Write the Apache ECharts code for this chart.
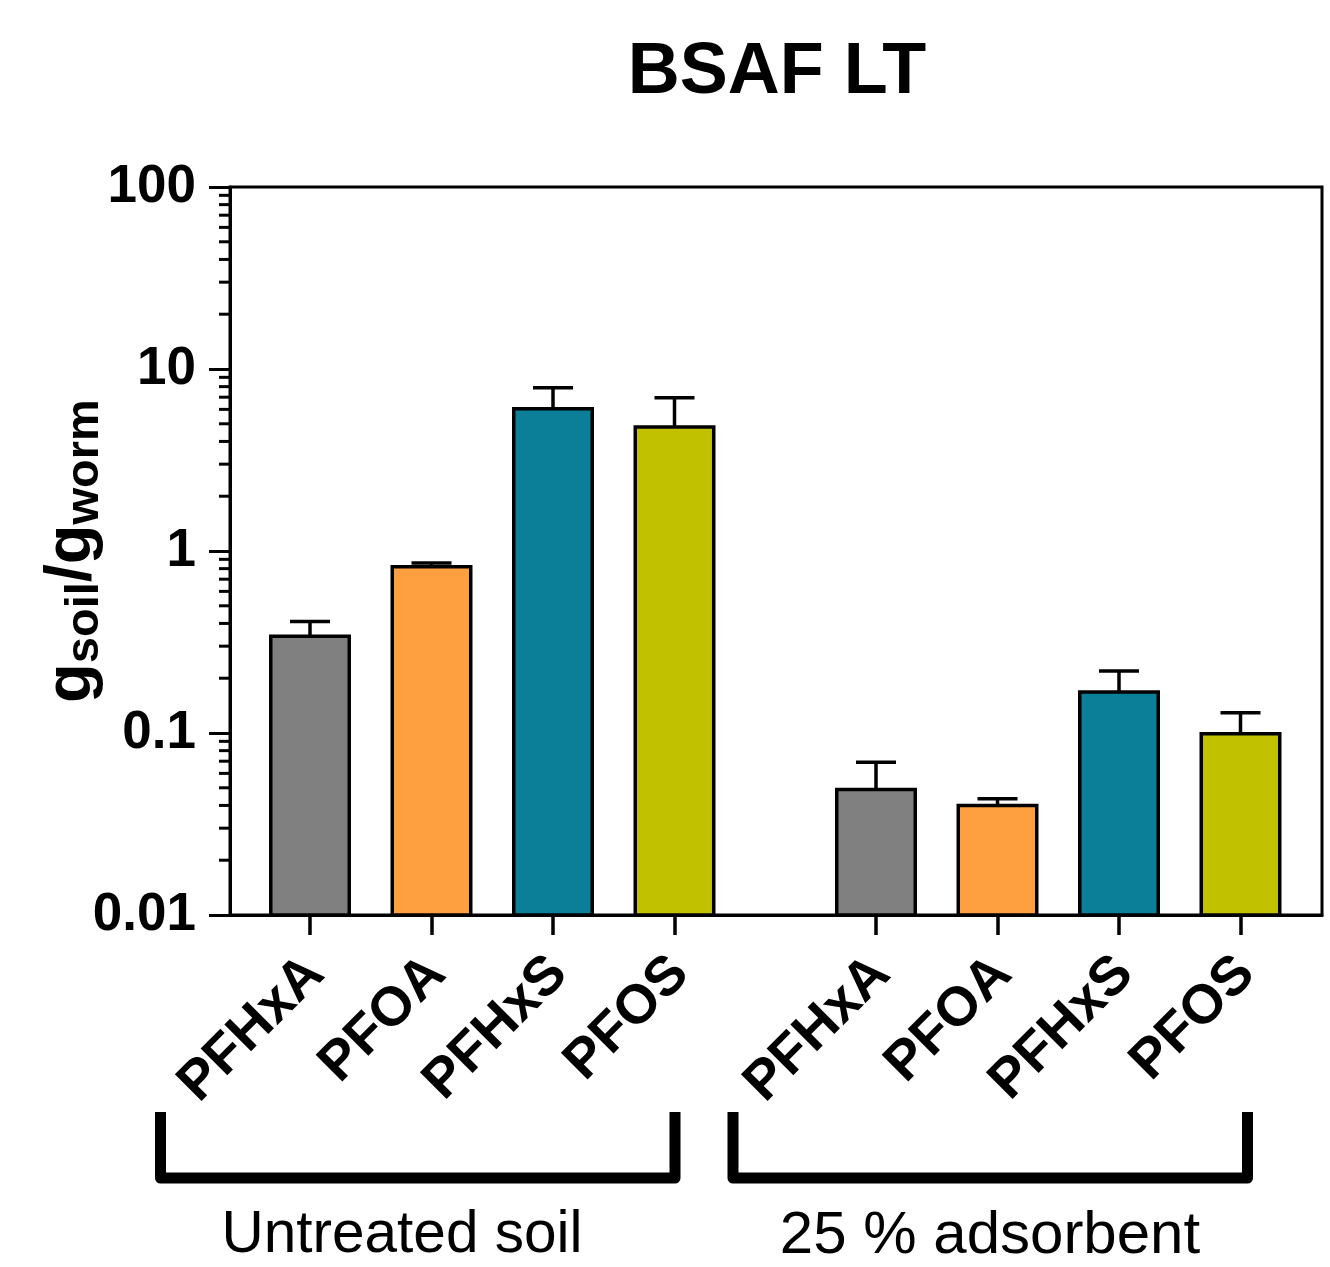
<!DOCTYPE html>
<html><head><meta charset="utf-8">
<script src="https://cdn.jsdelivr.net/npm/echarts@6/dist/echarts.min.js"></script>
<style>html,body{margin:0;padding:0;background:#fff}#c{width:1330px;height:1267px}</style>
</head><body><div id="c"></div>
<script>
const titleText = 'BSAF LT';
const compounds = ['PFHxA', 'PFOA', 'PFHxS', 'PFOS'];
const groupNames = ['Untreated soil', '25 % adsorbent'];
const untreatedMean = [0.34, 0.82, 6.05, 4.8];
const untreatedUpper = [0.41, 0.86, 7.9, 6.95];
const adsorbentMean = [0.049, 0.040, 0.168, 0.099];
const adsorbentUpper = [0.069, 0.0435, 0.219, 0.129];
const yTickLabels = ['0.01', '0.1', '1', '10', '100'];
const barColors = ['#808080', '#ffa040', '#0b7e98', '#c1c100'];

const FONT = '"Liberation Sans", Arial, Helvetica, sans-serif';
const yMin = Number(yTickLabels[0]), yMax = Number(yTickLabels[yTickLabels.length - 1]);

// minor tick values (2..9 per decade)
const minorVals = [];
for (let d = 0; d < yTickLabels.length - 1; d++) {
  const base = Number(yTickLabels[d]);
  for (let k = 2; k <= 9; k++) minorVals.push([0, base * k]);
}

function barItem(params, api) {
  const i = api.value(0), v = api.value(1), hi = api.value(2);
  const tp = api.coord([i, v]);
  const bs = api.coord([i, yMin]);
  const cap = api.coord([i, hi]);
  const band = api.size([1, 0])[0];
  const w = band * 0.646;
  const lw = 3.5;
  return {
    type: 'group',
    children: [
      { type: 'line', shape: { x1: tp[0], y1: tp[1], x2: tp[0], y2: cap[1] }, style: { stroke: '#000', lineWidth: lw } },
      { type: 'line', shape: { x1: tp[0] - 20, y1: cap[1], x2: tp[0] + 20, y2: cap[1] }, style: { stroke: '#000', lineWidth: lw } },
      { type: 'rect', shape: { x: tp[0] - w / 2, y: tp[1], width: w, height: bs[1] - tp[1] }, style: { fill: barColors[i], stroke: '#000', lineWidth: lw } }
    ]
  };
}

function minorItem(params, api) {
  const p = api.coord([0, api.value(1)]);
  return { type: 'line', shape: { x1: p[0] - 11, y1: p[1], x2: p[0], y2: p[1] }, style: { stroke: '#000', lineWidth: 3 } };
}

const catAxis = (gi) => ({
  type: 'category', gridIndex: gi, data: compounds,
  axisLine: { show: false },
  axisTick: { show: true, alignWithLabel: true, length: 20, lineStyle: { color: '#000', width: 3.5 } },
  axisLabel: { interval: 0, rotate: 45, margin: 56, fontSize: 55, fontWeight: 'bold', color: '#000', fontFamily: FONT, padding: [0, -8, 0, 0] },
  splitLine: { show: false }
});
const hiddenLog = (gi) => ({ type: 'log', logBase: 10, min: yMin, max: yMax, gridIndex: gi, show: false });

const gridTop = 187, gridH = 728;
const option = {
  animation: false,
  backgroundColor: '#fff',
  title: {
    text: titleText, left: 772, top: 32, textAlign: 'center',
    textStyle: { fontSize: 72, fontWeight: 'bold', color: '#000', fontFamily: FONT, lineHeight: 72 }
  },
  grid: [
    { left: 230, top: gridTop, width: 1092, height: gridH, show: true, borderColor: '#000', borderWidth: 3, backgroundColor: 'transparent' },
    { left: 249.25, top: gridTop, width: 486, height: gridH },
    { left: 815.25, top: gridTop, width: 486, height: gridH }
  ],
  xAxis: [
    { type: 'value', gridIndex: 0, min: 0, max: 1, axisLine: { show: true, lineStyle: { color: '#000', width: 3 } }, axisTick: { show: false }, axisLabel: { show: false }, splitLine: { show: false } },
    catAxis(1), catAxis(2)
  ],
  yAxis: [
    {
      type: 'log', logBase: 10, min: yMin, max: yMax, gridIndex: 0, splitNumber: 4,
      axisLine: { show: true, lineStyle: { color: '#000', width: 3 } },
      axisTick: { show: true, length: 21, lineStyle: { color: '#000', width: 3 } },
      axisLabel: {
        margin: 34, fontSize: 53, fontWeight: 'bold', color: '#000', fontFamily: FONT,
        formatter: (v) => {
          const idx = Math.round(Math.log10(v) - Math.log10(yMin));
          return yTickLabels[idx] !== undefined ? yTickLabels[idx] : '';
        }
      },
      splitLine: { show: false },
      name: '{m|g}{s|soil}{m|/g}{s|worm}',
      nameLocation: 'middle', nameRotate: 90, nameGap: 121, nameMoveOverlap: false,
      nameTextStyle: {
        rich: {
          m: { fontSize: 65, fontWeight: 'bold', color: '#000', fontFamily: FONT },
          s: { fontSize: 47, fontWeight: 'bold', color: '#000', fontFamily: FONT, padding: [26, 0, 0, 0] }
        }
      }
    },
    hiddenLog(1), hiddenLog(2)
  ],
  series: [
    { type: 'custom', xAxisIndex: 0, yAxisIndex: 0, renderItem: minorItem, data: minorVals, encode: { x: 0, y: 1 }, clip: false, silent: true },
    { type: 'custom', xAxisIndex: 1, yAxisIndex: 1, renderItem: barItem, encode: { x: 0, y: 1 }, clip: false,
      data: untreatedMean.map((v, i) => [i, v, untreatedUpper[i]]) },
    { type: 'custom', xAxisIndex: 2, yAxisIndex: 2, renderItem: barItem, encode: { x: 0, y: 1 }, clip: false,
      data: adsorbentMean.map((v, i) => [i, v, adsorbentUpper[i]]) }
  ],
  graphic: [
    { type: 'polyline', shape: { points: [[160.5, 1112], [160.5, 1178], [675, 1178], [675, 1112]] }, style: { stroke: '#000', lineWidth: 11, fill: null, lineJoin: 'round' } },
    { type: 'polyline', shape: { points: [[733, 1112], [733, 1178], [1247.5, 1178], [1247.5, 1112]] }, style: { stroke: '#000', lineWidth: 11, fill: null, lineJoin: 'round' } },
    { type: 'text', x: 402, y: 1236, style: { text: groupNames[0], fontSize: 58.5, fontFamily: FONT, fill: '#000', align: 'center', verticalAlign: 'middle' } },
    { type: 'text', x: 990, y: 1236, style: { text: groupNames[1], fontSize: 60, fontFamily: FONT, fill: '#000', align: 'center', verticalAlign: 'middle' } }
  ]
};
const chart = echarts.init(document.getElementById('c'));
chart.setOption(option);
</script>
</body></html>
